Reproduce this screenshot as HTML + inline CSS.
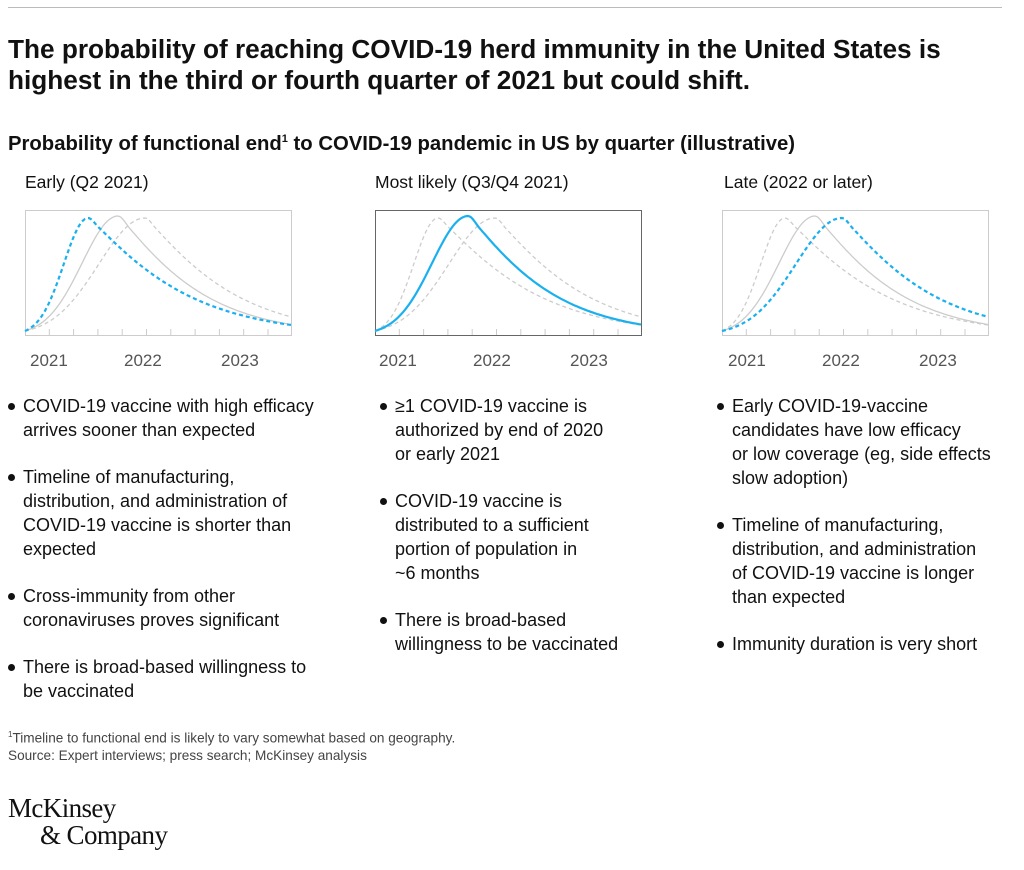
<!DOCTYPE html><html><head><meta charset="utf-8"><style>
body{margin:0;width:1024px;height:870px;background:#fff;font-family:"Liberation Sans",sans-serif;color:#111;position:relative;overflow:hidden}
.a{position:absolute;white-space:nowrap}
.t{left:8px;font-size:26.2px;font-weight:bold;line-height:31px;top:34px}
.st{left:8px;top:133px;font-size:20.3px;font-weight:bold}
.h{top:172px;font-size:17.5px}
.yr{font-size:17px;color:#555;top:351px}
ul{position:absolute;margin:0;padding:0;list-style:none;font-size:18px;line-height:24px;top:394px}
li{padding-left:16px;position:relative;margin-bottom:23px}
li:before{content:"";position:absolute;left:1px;top:9px;width:7px;height:7px;border-radius:50%;background:#111}
.fn{left:8px;font-size:13.6px;color:#444;line-height:17px;top:726px}
.logo{left:8px;top:795px;font-family:"Liberation Serif",serif;font-size:27px;line-height:27px;letter-spacing:-0.6px}
</style></head><body>
<div class="a" style="left:8px;top:7px;width:994px;height:1px;background:#bbb"></div>
<div class="a t">The probability of reaching COVID-19 herd immunity in the United States is<br>highest in the third or fourth quarter of 2021 but could shift.</div>
<div class="a st">Probability of functional end<sup style="font-size:11px">1</sup> to COVID-19 pandemic in US by quarter (illustrative)</div>
<div class="a h" style="left:25px">Early (Q2 2021)</div>
<div class="a h" style="left:375px">Most likely (Q3/Q4 2021)</div>
<div class="a h" style="left:724px">Late (2022 or later)</div>
<svg id="s" class="a" style="left:0;top:0" width="1024" height="400"></svg>
<div class="a yr" style="left:30px">2021</div><div class="a yr" style="left:124px">2022</div><div class="a yr" style="left:221px">2023</div>
<div class="a yr" style="left:379px">2021</div><div class="a yr" style="left:473px">2022</div><div class="a yr" style="left:570px">2023</div>
<div class="a yr" style="left:728px">2021</div><div class="a yr" style="left:822px">2022</div><div class="a yr" style="left:919px">2023</div>
<ul style="left:7px"><li>COVID-19 vaccine with high efficacy<br>arrives sooner than expected</li><li>Timeline of manufacturing,<br>distribution, and administration of<br>COVID-19 vaccine is shorter than<br>expected</li><li>Cross-immunity from other<br>coronaviruses proves significant</li><li>There is broad-based willingness to<br>be vaccinated</li></ul>
<ul style="left:379px"><li>≥1 COVID-19 vaccine is<br>authorized by end of 2020<br>or early 2021</li><li>COVID-19 vaccine is<br>distributed to a sufficient<br>portion of population in<br>~6 months</li><li>There is broad-based<br>willingness to be vaccinated</li></ul>
<ul style="left:716px"><li>Early COVID-19-vaccine<br>candidates have low efficacy<br>or low coverage (eg, side effects<br>slow adoption)</li><li>Timeline of manufacturing,<br>distribution, and administration<br>of COVID-19 vaccine is longer<br>than expected</li><li>Immunity duration is very short</li></ul>
<div class="a fn"><sup style="font-size:8px">1</sup>Timeline to functional end is likely to vary somewhat based on geography.<br>Source: Expert interviews; press search; McKinsey analysis</div>
<div class="a logo">McKinsey<br><span style="padding-left:32px">&amp; Company</span></div>
<script>
var s=document.getElementById('s'),h='';
function path(ox,p,tau,top){var d='';for(var t=0;t<=266;t+=2){var v;if(t<p){var z=(t-p)/(p/2.6);v=Math.exp(-z*z/2);}else{var q=(t-p)/tau;v=Math.exp(-Math.pow(q,1.15));var sm=Math.min(1,(t-p)/12);v=v*sm+(1-sm)*Math.exp(-Math.pow((t-p)/25,2)/2);}
var y=335-(125-top)*v;d+=(t?'L':'M')+(ox+t).toFixed(1)+' '+y.toFixed(1);}return d;}
var C=[[63,93,8],[93,80,6],[120,85,8]];
[[25,0],[375,1],[722,2]].forEach(function(c){var ox=c[0],k=c[1];
h+='<rect x="'+(ox+0.5)+'" y="210.5" width="266" height="125" fill="none" stroke="'+(k==1?'#666':'#ccc')+'" stroke-width="1"/>';
for(var i=1;i<11;i++){var x=ox+24.3*i;h+='<line x1="'+x+'" y1="329" x2="'+x+'" y2="335" stroke="#ccc"/>';}
for(var j=0;j<3;j++){if(j==k)continue;var c2=C[j];h+='<path d="'+path(ox,c2[0],c2[1],c2[2])+'" fill="none" stroke="#ccc" stroke-width="1.3" '+(j==1?'':'stroke-dasharray="4 3"')+'/>';}
var c3=C[k];h+='<path d="'+path(ox,c3[0],c3[1],c3[2])+'" fill="none" stroke="#1ab0ef" stroke-width="2.2" '+(k==1?'':'stroke-dasharray="4 3"')+'/>';});
s.innerHTML=h;
</script>
</body></html>
